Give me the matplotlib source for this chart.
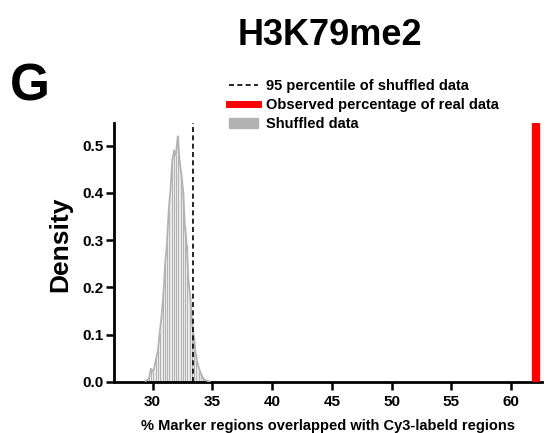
import matplotlib
matplotlib.use("Agg")
import matplotlib.pyplot as plt
from matplotlib.lines import Line2D
from matplotlib.patches import Patch

plt.rcParams['font.family'] = ['Liberation Sans', 'DejaVu Sans']
plt.rcParams['font.weight'] = 'bold'

bin_centers = [29.4, 29.55, 29.7, 29.85, 30.0, 30.15, 30.3, 30.45, 30.6, 30.75,
               30.9, 31.05, 31.2, 31.35, 31.5, 31.65, 31.8, 31.95, 32.1, 32.25,
               32.4, 32.55, 32.7, 32.85, 33.0, 33.15, 33.3, 33.45, 33.6, 33.75,
               33.9, 34.05, 34.2, 34.35, 34.5, 34.65, 34.8]
density = [0.002, 0.004, 0.008, 0.028, 0.020, 0.032, 0.050, 0.068, 0.105, 0.140,
           0.185, 0.250, 0.295, 0.365, 0.410, 0.470, 0.490, 0.480, 0.520, 0.470,
           0.440, 0.405, 0.330, 0.290, 0.215, 0.180, 0.125, 0.095, 0.060, 0.040,
           0.027, 0.016, 0.009, 0.005, 0.003, 0.0015, 0.001]
bin_width = 0.15
percentile95 = 33.35
observed = 62.1

title = "H3K79me2"
panel = "G"
xlabel = "% Marker regions overlapped with Cy3-labeld regions"
ylabel = "Density"
legend_labels = ["95 percentile of shuffled data",
                 "Observed percentage of real data",
                 "Shuffled data"]

fig = plt.figure(figsize=(5.55, 4.33), dpi=100)
ax = fig.add_axes([0.205, 0.118, 0.772, 0.598])

gray = '#b3b3b3'
ax.bar(bin_centers, density, width=bin_width, color=gray, edgecolor='white',
       linewidth=0.4, zorder=2)
ax.plot(bin_centers, density, color=gray, lw=1.3, zorder=3)
ax.axvline(percentile95, color='black', ls=(0, (3, 2)), lw=1.2, zorder=4)
ax.axvline(observed, color='red', lw=6, zorder=4)

ax.set_xlim(26.75, 62.6)
ax.set_ylim(0, 0.548)
ax.set_xticks([30, 35, 40, 45, 50, 55, 60])
ax.set_yticks([0.0, 0.1, 0.2, 0.3, 0.4, 0.5])
ax.set_yticklabels(['0.0', '0.1', '0.2', '0.3', '0.4', '0.5'])
for s in ['top', 'right']:
    ax.spines[s].set_visible(False)
for s in ['left', 'bottom']:
    ax.spines[s].set_linewidth(2)
ax.tick_params(axis='both', width=1.8, length=5.5, labelsize=11, direction='out')
ax.tick_params(axis='y', pad=2)
ax.tick_params(axis='x', pad=4)
for lab in ax.get_xticklabels() + ax.get_yticklabels():
    lab.set_fontweight('bold')

ax.set_xlabel(xlabel, fontsize=10.5, fontweight='bold', labelpad=7)
ax.set_ylabel(ylabel, fontsize=19, fontweight='bold')
ax.yaxis.set_label_coords(-0.097, 0.53)

fig.text(0.594, 0.917, title, ha='center', va='center', fontsize=26, fontweight='bold')
fig.text(0.018, 0.80, panel, ha='left', va='center', fontsize=37, fontweight='bold')

handles = [Line2D([0], [0], color='black', ls=(0, (3, 2)), lw=1.2),
           Line2D([0], [0], color='red', lw=5),
           Patch(facecolor=gray, edgecolor=gray)]
fig.legend(handles, legend_labels, loc='upper left', bbox_to_anchor=(0.40, 0.835),
           frameon=False, handlelength=2.0, handletextpad=0.5,
           labelspacing=0.35, borderpad=0, prop={'weight': 'bold', 'size': 10.5})

fig.savefig('out.png', dpi=100)
